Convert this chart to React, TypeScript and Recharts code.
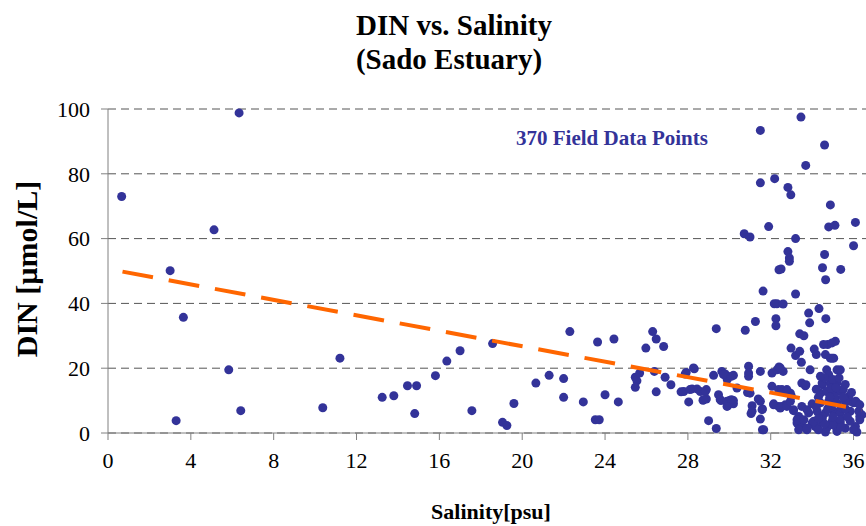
import React from 'react';
import { ScatterChart, Scatter, XAxis, YAxis, CartesianGrid } from 'recharts';

// field samples, [salinity psu, DIN µmol/L]
const lowSalinity: [number, number][] = [
  [0.66, 73.0], [6.33, 98.8], [5.12, 62.7], [3.0, 50.1], [3.64, 35.7], [5.83, 19.5],
  [3.29, 3.8], [6.41, 6.9], [11.2, 23.1], [10.37, 7.8], [13.24, 11.0], [13.8, 11.5],
  [14.46, 14.6], [14.9, 14.6], [14.81, 6.0], [15.81, 17.7], [16.36, 22.2], [17.0, 25.4],
  [17.57, 6.9], [18.57, 27.6], [19.05, 3.3], [19.26, 2.3], [19.6, 9.1], [20.66, 15.4],
  [21.3, 17.8], [22.0, 16.8], [22.0, 11.0], [22.3, 31.3], [22.95, 9.6], [23.53, 4.1],
  [23.72, 4.1], [23.64, 28.1], [24.0, 11.8], [24.43, 29.0], [24.64, 9.6],
];

const midSalinity: [number, number][] = [
  [25.46, 17.2], [25.54, 16.1], [25.67, 18.5], [25.46, 14.1], [25.97, 26.2], [26.3, 31.3],
  [26.47, 29.0], [26.83, 26.7], [26.38, 19.0], [26.47, 12.7], [26.9, 17.2], [27.18, 14.9],
  [27.67, 12.7], [28.04, 9.6], [27.87, 18.2], [27.92, 18.7], [28.31, 19.8], [28.2, 13.6],
  [28.44, 13.6], [28.6, 12.8], [28.89, 13.4], [28.73, 10.1], [28.89, 10.5], [29.0, 3.8],
  [29.37, 1.4], [29.37, 32.2], [29.24, 17.8], [29.64, 19.0], [29.8, 18.2], [29.9, 16.5],
  [30.2, 17.8], [29.48, 11.8], [29.6, 10.0], [29.92, 8.4], [30.01, 10.0], [30.2, 10.0],
  [30.2, 9.0], [30.37, 13.9], [28.27, 20.1], [27.8, 12.8], [28.1, 13.4], [28.84, 12.8],
  [28.76, 10.3], [29.72, 18.0], [30.1, 17.5], [29.56, 10.3], [29.89, 9.8], [30.1, 10.3],
  [29.89, 8.2],
];

const marineHigh: [number, number][] = [
  [30.77, 31.7], [31.26, 34.4], [31.63, 43.8], [32.4, 50.4], [32.17, 39.9], [32.3, 39.9],
  [32.25, 35.3], [32.25, 33.1], [31.5, 93.4], [33.46, 97.5], [34.6, 88.9], [33.69, 82.6],
  [31.5, 77.2], [32.19, 78.5], [32.83, 75.8], [32.97, 73.5], [34.88, 70.4], [30.72, 61.5],
  [31.0, 60.5], [31.9, 63.7], [33.2, 60.0], [34.8, 63.6], [35.1, 64.1], [36.09, 65.0],
  [36.0, 57.8], [32.83, 56.0], [32.9, 54.0], [32.9, 53.0], [32.5, 50.6], [34.6, 55.1],
  [34.5, 51.0], [35.38, 50.5], [34.65, 47.3], [33.2, 42.9], [32.6, 39.8], [33.83, 37.0],
  [34.33, 38.4], [33.88, 34.0], [34.66, 35.3], [33.4, 30.6], [33.6, 30.0], [32.98, 26.2],
  [33.2, 23.9], [33.4, 25.2], [33.48, 21.8], [34.1, 25.9], [34.2, 24.2], [34.64, 24.2],
  [34.88, 23.1], [35.04, 23.1], [34.75, 27.3], [35.12, 28.3], [34.55, 27.3], [34.96, 27.8],
  [34.96, 23.1],
];

const marineLow: [number, number][] = [
  [30.93, 20.6], [30.93, 18.5], [30.93, 17.5], [31.5, 19.0], [31.0, 12.3], [31.1, 8.4],
  [31.05, 6.0], [31.5, 9.8], [31.6, 7.4], [31.5, 4.3], [31.6, 1.0], [32.06, 18.5],
  [32.3, 19.5], [32.06, 14.4], [32.38, 13.4], [32.14, 9.0], [32.38, 8.2], [33.9, 19.5],
  [32.4, 20.4], [32.6, 19.0], [30.88, 12.5], [31.4, 10.5], [31.1, 6.7], [32.54, 13.4],
  [32.78, 13.4], [32.95, 12.3], [32.14, 8.7], [32.54, 8.2], [32.7, 8.7], [33.1, 6.9],
  [33.35, 5.1], [33.27, 3.1], [33.5, 2.0], [33.75, 1.0], [33.67, 14.6], [33.83, 6.2],
  [34.0, 3.1], [34.15, 2.0], [31.58, 7.2], [31.66, 1.0], [32.46, 20.1], [32.46, 7.7],
  [32.78, 8.2], [32.54, 12.8], [32.78, 12.8], [33.0, 11.3], [32.95, 9.8], [33.1, 7.2],
  [33.27, 4.1], [33.35, 1.0], [33.5, 15.4], [33.7, 14.9], [33.5, 8.2], [33.75, 7.2],
];

const denseCluster: [number, number][] = [
  [34.7, 19.5], [35.2, 19.5], [35.36, 19.5], [34.8, 18.0], [35.2, 15.4], [34.5, 14.9],
  [35.76, 11.3], [35.84, 9.8], [36.16, 9.3], [36.3, 5.1], [36.09, 2.0], [36.16, 0.3],
  [35.36, 3.1], [35.2, 0.5], [34.64, 0.3], [34.24, 2.0], [34.48, 15.4], [34.88, 15.4],
  [34.4, 12.3], [34.7, 12.8], [35.0, 12.3], [35.36, 12.8], [34.4, 9.3], [34.8, 9.8],
  [35.2, 9.3], [35.6, 9.8], [36.0, 9.3], [36.1, 9.8], [34.24, 6.7], [34.64, 6.2],
  [35.04, 6.7], [35.36, 6.2], [35.84, 6.7], [36.25, 6.7], [36.4, 5.6], [33.6, 4.1],
  [34.07, 3.6], [34.48, 4.1], [34.96, 3.6], [35.36, 4.1], [35.84, 3.6], [36.3, 4.1],
  [33.75, 1.5], [34.3, 1.0], [34.7, 1.5], [35.2, 1.0], [35.6, 1.5], [36.0, 1.0],
  [36.3, 8.7], [34.6, 17.0], [35.0, 16.5], [34.3, 11.0], [35.1, 11.0], [35.5, 13.5],
  [34.9, 8.0], [35.4, 7.8], [34.5, 5.0], [35.7, 5.0], [35.0, 2.5], [34.0, 9.0],
  [34.2, 13.5], [34.4, 17.5], [35.3, 17.0], [34.9, 13.8], [35.6, 15.0], [34.2, 8.0],
  [35.0, 5.0], [35.6, 7.5], [34.6, 2.8], [35.4, 1.8], [35.9, 12.5], [34.3, 4.5],
  [34.85, 11.0], [35.15, 14.0], [34.75, 7.5], [35.5, 11.0],
];

// linear trend, endpoints
const trendSalinity = [0.7, 36.4];
const trendDin = [49.8, 7.2];

const xTicks = [0, 4, 8, 12, 16, 20, 24, 28, 32, 36];
const yTicks = [0, 20, 40, 60, 80, 100];

const fieldData = [...lowSalinity, ...midSalinity, ...marineHigh, ...marineLow, ...denseCluster]
  .map(([salinity, din]) => ({ salinity, din }));
const trendData = trendSalinity.map((salinity, i) => ({ salinity, din: trendDin[i] }));

const serif = '"Liberation Serif", "Times New Roman", serif';

function FieldDot(props: any) {
  if (props.cx == null || props.cy == null) return null
  return <circle cx={props.cx} cy={props.cy} r={4.5} fill="#333399" />
}

export default function App() {
  return (
    <div style={{ position: 'absolute', left: 0, top: 0, width: 866, height: 526, background: '#fff', fontFamily: serif }}>
      <ScatterChart width={866} height={526} margin={{ top: 109, right: 0, bottom: 0, left: 0 }}>
        <CartesianGrid vertical={false} stroke="#555" strokeDasharray="8 5" />
        <XAxis
          type="number"
          dataKey="salinity"
          domain={[0, 36.6]}
          ticks={xTicks}
          allowDataOverflow
          height={93}
          tickSize={7}
          tickMargin={12}
          stroke="#808080"
          tick={{ fill: '#000', fontSize: 22, fontFamily: serif }}
        />
        <YAxis
          type="number"
          dataKey="din"
          domain={[0, 100]}
          ticks={yTicks}
          width={108}
          tickSize={7}
          tickMargin={11}
          stroke="#808080"
          tick={{ fill: '#000', fontSize: 22, fontFamily: serif }}
        />
        <Scatter data={fieldData} shape={FieldDot} isAnimationActive={false} />
        <Scatter
          data={trendData}
          line={{ stroke: '#FF6600', strokeWidth: 4, strokeDasharray: '31 16' }}
          shape={() => <g />}
          isAnimationActive={false}
        />
      </ScatterChart>
      <svg width={866} height={526} style={{ position: 'absolute', left: 0, top: 0, pointerEvents: 'none' }}>
        <g fontFamily={serif} fontWeight="bold">
          <text x={454} y={35} textAnchor="middle" fontSize={29}>DIN vs. Salinity</text>
          <text x={449} y={69} textAnchor="middle" fontSize={29}>(Sado Estuary)</text>
          <text x={612} y={145} textAnchor="middle" fontSize={21} fill="#333399">370 Field Data Points</text>
          <text x={491} y={519} textAnchor="middle" fontSize={22}>Salinity[psu]</text>
          <text transform="translate(37 269) rotate(-90)" textAnchor="middle" fontSize={30}>DIN [µmol/L]</text>
        </g>
      </svg>
    </div>
  );
}
